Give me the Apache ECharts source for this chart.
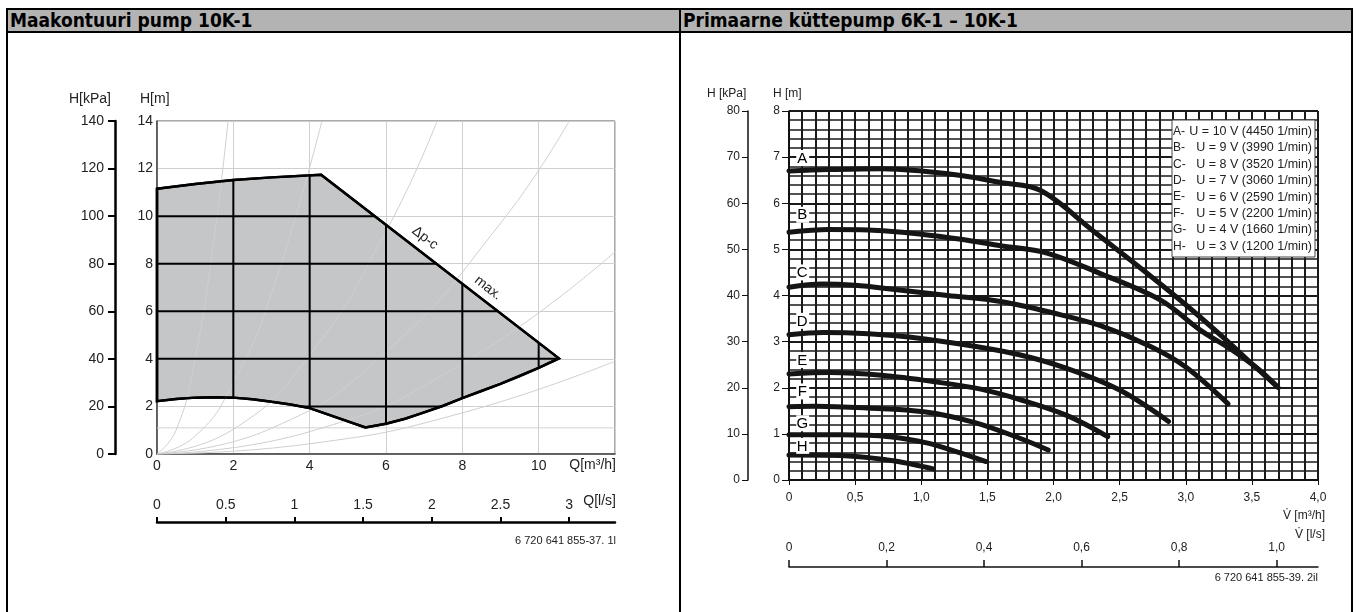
<!DOCTYPE html>
<html>
<head>
<meta charset="utf-8">
<script src="https://cdn.jsdelivr.net/npm/echarts@6/dist/echarts.min.js"></script>
<style>
  body { margin: 0; background: #fff; }
  #wrap { position: relative; width: 1359px; height: 612px; overflow: hidden; }
  #chart { position: absolute; left: 0; top: 0; width: 1359px; height: 612px; }
  .vl { position: absolute; top: 8px; bottom: 0; width: 2px; background: #000; }
  .hd { position: absolute; top: 8px; height: 21px; background: #b3b3b3;
        border-top: 2px solid #000; border-bottom: 2px solid #000;
        font: bold 19px 'Liberation Sans Narrow', 'DejaVu Sans Condensed', sans-serif;
        line-height: 21px; padding-left: 3px; box-sizing: content-box; }
</style>
</head>
<body>
<div id="wrap">
  <div class="hd" style="left:7px;width:670px">Maakontuuri pump 10K-1</div>
  <div class="hd" style="left:680px;width:669px">Primaarne küttepump 6K-1 – 10K-1</div>
  <div class="vl" style="left:6px"></div>
  <div class="vl" style="left:679px"></div>
  <div class="vl" style="left:1351px"></div>
  <div id="chart"></div>
</div>
<script>
// ---- left chart: Maakontuuri pump (Q m3/h, H m) ----
var areaTop = [[0, 11.15], [1, 11.35], [2, 11.52], [3, 11.63], [4.3, 11.74], [10.53, 4.02]];
var areaBottom = [[0, 2.22], [0.5, 2.31], [1, 2.37], [1.5, 2.39], [2, 2.37], [2.5, 2.3], [3, 2.2],
  [3.5, 2.08], [4, 1.93], [5.46, 1.12], [6, 1.27], [6.5, 1.48], [7, 1.75], [7.5, 2.03],
  [8, 2.35], [8.5, 2.65], [9, 2.95], [9.5, 3.28], [10, 3.62], [10.53, 4.02]];
// system curves (light grey)
var sysCurves = [
  [[0, 0], [0.5, 1.0], [1, 4.05], [1.5, 9.1], [1.86, 14]],
  [[0, 0], [1, 0.75], [2, 3.0], [3, 6.75], [4.32, 14]],
  [[0, 0], [2, 1.04], [4, 4.16], [6, 9.36], [7.34, 14]],
  [[0, 0], [3, 1.08], [6, 4.3], [9, 9.7], [10.8, 14]],
  [[0, 0], [4, 0.94], [8, 3.8], [12, 8.5]],
  [[0, 0], [4, 0.43], [8, 1.73], [12, 3.9]]
];
var leftGridQ = [2, 4, 6, 8, 10];
var leftGridH = [2, 4, 6, 8, 10, 12];

// ---- right chart: Primaarne küttepump (V m3/h, H m) ----
var curveNames = ['A', 'B', 'C', 'D', 'E', 'F', 'G', 'H'];
var curveInfo = ['U = 10 V (4450 1/min)', 'U = 9 V (3990 1/min)', 'U = 8 V (3520 1/min)',
  'U = 7 V (3060 1/min)', 'U = 6 V (2590 1/min)', 'U = 5 V (2200 1/min)',
  'U = 4 V (1660 1/min)', 'U = 3 V (1200 1/min)'];
var labelH = [6.98, 5.75, 4.5, 3.45, 2.6, 1.92, 1.23, 0.74];
var curves = [
  [[0, 6.7], [0.3, 6.73], [0.7, 6.75], [1.0, 6.7], [1.3, 6.6], [1.6, 6.45], [1.9, 6.28], [2.3, 5.4], [2.7, 4.5], [3.0, 3.8], [3.3, 3.05], [3.5, 2.52], [3.7, 2.0]],
  [[0, 5.37], [0.3, 5.43], [0.6, 5.42], [1.0, 5.33], [1.3, 5.22], [1.6, 5.08], [1.95, 4.92], [2.35, 4.48], [2.81, 3.9], [3.11, 3.25], [3.36, 2.8], [3.55, 2.4], [3.69, 2.03]],
  [[0, 4.18], [0.25, 4.25], [0.5, 4.22], [0.8, 4.13], [1.2, 4.0], [1.6, 3.87], [2.0, 3.62], [2.35, 3.35], [2.73, 2.9], [3.0, 2.45], [3.32, 1.65]],
  [[0, 3.15], [0.26, 3.2], [0.6, 3.17], [1.0, 3.07], [1.4, 2.9], [1.75, 2.71], [2.1, 2.42], [2.5, 1.95], [2.87, 1.27]],
  [[0, 2.3], [0.31, 2.33], [0.7, 2.27], [1.1, 2.13], [1.45, 1.97], [1.75, 1.74], [2.1, 1.4], [2.41, 0.94]],
  [[0, 1.59], [0.2, 1.6], [0.6, 1.56], [1.02, 1.48], [1.4, 1.25], [1.75, 0.9], [1.96, 0.65]],
  [[0, 0.98], [0.4, 0.98], [0.76, 0.94], [1.05, 0.8], [1.27, 0.61], [1.49, 0.40]],
  [[0, 0.54], [0.39, 0.53], [0.76, 0.43], [0.95, 0.33], [1.09, 0.24]]
];

var FONT = "'Liberation Sans', Arial, sans-serif";

function interp(pts, q) {
  for (var i = 1; i < pts.length; i++) {
    if (q <= pts[i][0]) {
      var a = pts[i - 1], b = pts[i];
      return a[1] + (b[1] - a[1]) * (q - a[0]) / (b[0] - a[0]);
    }
  }
  return pts[pts.length - 1][1];
}

// black grid pieces that lie inside the operating area
var qEnd = areaTop[areaTop.length - 1][0];
var innerSegs = [];
leftGridQ.forEach(function (q) {
  if (q < qEnd) innerSegs.push([q, interp(areaBottom, q), q, interp(areaTop, q)]);
});
leftGridH.forEach(function (h) {
  var start = null;
  for (var q = 0; q <= qEnd + 1e-9; q += 0.005) {
    var inside = interp(areaBottom, q) < h && h < interp(areaTop, q);
    if (inside && start === null) start = q;
    if (!inside && start !== null) { innerSegs.push([start, h, q, h]); start = null; }
  }
  if (start !== null) innerSegs.push([start, h, qEnd, h]);
});

function comma(v) {
  if (v === 0) return '0';
  return v.toFixed(1).replace('.', ',');
}

var chart = echarts.init(document.getElementById('chart'));

var series = [];
// operating area fill + outline
series.push({
  type: 'custom', xAxisIndex: 0, yAxisIndex: 0, z: 2, silent: true,
  data: [[0, 0]],
  renderItem: function (params, api) {
    var pts = areaTop.concat(areaBottom.slice().reverse()).map(function (p) { return api.coord(p); });
    return { type: 'polygon', shape: { points: pts },
      style: { fill: '#c5c6c8', stroke: '#000', lineWidth: 2.5, lineJoin: 'miter' } };
  }
});
sysCurves.forEach(function (c) {
  series.push({ type: 'line', xAxisIndex: 0, yAxisIndex: 0, z: 3, data: c, smooth: true,
    symbol: 'none', silent: true, lineStyle: { color: '#cfcfcf', width: 1 } });
});
series.push({ type: 'line', xAxisIndex: 0, yAxisIndex: 0, z: 1, data: [[0, 1.1], [12, 1.1]],
  symbol: 'none', silent: true, lineStyle: { color: '#d2d2d2', width: 1 } });
series.push({
  type: 'custom', xAxisIndex: 0, yAxisIndex: 0, z: 4, silent: true,
  data: innerSegs,
  renderItem: function (params, api) {
    var p1 = api.coord([api.value(0), api.value(1)]);
    var p2 = api.coord([api.value(2), api.value(3)]);
    return { type: 'line', shape: { x1: p1[0], y1: p1[1], x2: p2[0], y2: p2[1] },
      style: { stroke: '#000', lineWidth: 2 } };
  }
});
// re-stroke outline on top of the black grid
series.push({
  type: 'custom', xAxisIndex: 0, yAxisIndex: 0, z: 5, silent: true,
  data: [[0, 0]],
  renderItem: function (params, api) {
    var pts = areaTop.concat(areaBottom.slice().reverse()).map(function (p) { return api.coord(p); });
    return { type: 'polygon', shape: { points: pts },
      style: { fill: 'none', stroke: '#000', lineWidth: 2.5 } };
  }
});

curves.forEach(function (c, i) {
  series.push({ type: 'line', name: curveNames[i], xAxisIndex: 2, yAxisIndex: 2, z: 5,
    data: c, smooth: 0.35, symbol: 'none', silent: true,
    lineStyle: { color: '#151515', width: 5, cap: 'round' } });
});
// curve letters with white boxes
series.push({
  type: 'custom', xAxisIndex: 2, yAxisIndex: 2, z: 6, silent: true,
  data: curveNames.map(function (n, i) { return [0.1, labelH[i]]; }),
  renderItem: function (params, api) {
    var p = api.coord([api.value(0), api.value(1)]);
    return { type: 'group', children: [
      { type: 'rect', shape: { x: p[0] - 6, y: p[1] - 8, width: 13, height: 16 }, style: { fill: '#fff' } },
      { type: 'text', x: p[0], y: p[1] + 0.5,
        style: { text: curveNames[params.dataIndex], font: '15px ' + FONT, fill: '#000',
          align: 'center', verticalAlign: 'middle', opacity: 1 } }
    ] };
  }
});

var legendKids = [{ type: 'rect', z: 100, shape: { x: 0, y: 0, width: 143, height: 137 },
  style: { fill: '#fff', stroke: '#444', lineWidth: 1 } }];
curveNames.forEach(function (n, i) {
  legendKids.push({ type: 'text', z: 101, x: 1, y: 11.5 + i * 16.4,
    style: { text: n + '-', font: '12px ' + FONT, fill: '#222', verticalAlign: 'middle' } });
  legendKids.push({ type: 'text', z: 101, x: 140, y: 11.5 + i * 16.4,
    style: { text: curveInfo[i], font: '12.5px ' + FONT, fill: '#222', align: 'right', verticalAlign: 'middle' } });
});

function txt(x, y, s, size, align, rot) {
  return { type: 'text', x: x, y: y, rotation: rot || 0, z: 50,
    style: { text: s, font: size + 'px ' + FONT, fill: '#222', align: align || 'left', verticalAlign: 'middle' } };
}

var axisTxt = { fontFamily: FONT, color: '#222' };

chart.setOption({
  animation: false,
  grid: [
    { left: 157, top: 121, width: 458, height: 333, show: true, borderColor: '#555', borderWidth: 1 },
    { left: 789, top: 111, width: 529, height: 369 }
  ],
  xAxis: [
    { gridIndex: 0, type: 'value', min: 0, max: 12, interval: 2,
      axisLine: { lineStyle: { color: '#444', width: 1.5 } }, axisTick: { show: false },
      axisLabel: Object.assign({ fontSize: 14, margin: 5, showMaxLabel: false }, axisTxt),
      splitLine: { lineStyle: { color: '#cfcfcf', width: 1 } } },
    { gridIndex: 0, type: 'value', position: 'bottom', offset: 68, min: 0, max: 12 / 3.6, interval: 0.5,
      axisLine: { onZero: false, lineStyle: { color: '#000', width: 2.5 } },
      axisTick: { inside: true, length: 5, lineStyle: { color: '#000', width: 2 } },
      axisLabel: Object.assign({ inside: true, fontSize: 14, margin: 10, showMaxLabel: false }, axisTxt),
      splitLine: { show: false } },
    { gridIndex: 1, type: 'value', min: 0, max: 4, interval: 0.5,
      axisLine: { lineStyle: { color: '#111', width: 1.5 } },
      axisTick: { length: 5, lineStyle: { color: '#111' } },
      axisLabel: Object.assign({ fontSize: 12, margin: 12, formatter: comma }, axisTxt),
      minorTick: { show: false, splitNumber: 5 },
      splitLine: { lineStyle: { color: '#1a1a1a', width: 2 } },
      minorSplitLine: { show: true, lineStyle: { color: '#1a1a1a', width: 2 } } },
    { gridIndex: 1, type: 'value', position: 'bottom', offset: 87, min: 0, max: 1.085, interval: 0.2,
      axisLine: { onZero: false, lineStyle: { color: '#111', width: 1.5 } },
      axisTick: { inside: true, length: 7, lineStyle: { color: '#111', width: 1.5 } },
      axisLabel: Object.assign({ inside: true, fontSize: 12, margin: 13, showMaxLabel: false, formatter: comma }, axisTxt),
      splitLine: { show: false } }
  ],
  yAxis: [
    { gridIndex: 0, type: 'value', min: 0, max: 14, interval: 2,
      axisLine: { show: true, lineStyle: { color: '#444', width: 1.5 } }, axisTick: { show: false },
      axisLabel: Object.assign({ fontSize: 14, margin: 4 }, axisTxt),
      splitLine: { lineStyle: { color: '#cfcfcf', width: 1 } } },
    { gridIndex: 0, type: 'value', position: 'left', offset: 42, min: 0, max: 140, interval: 20,
      axisLine: { show: true, onZero: false, lineStyle: { color: '#000', width: 2.5 } },
      axisTick: { show: true, length: 7, lineStyle: { color: '#000', width: 2 } },
      axisLabel: Object.assign({ fontSize: 14, margin: 11 }, axisTxt),
      splitLine: { show: false } },
    { gridIndex: 1, type: 'value', min: 0, max: 8, interval: 1,
      axisLine: { show: true, lineStyle: { color: '#111', width: 1.5 } },
      axisTick: { show: true, length: 7, lineStyle: { color: '#111' } },
      axisLabel: Object.assign({ fontSize: 12, margin: 9 }, axisTxt),
      minorTick: { show: false, splitNumber: 5 },
      splitLine: { lineStyle: { color: '#1a1a1a', width: 2 } },
      minorSplitLine: { show: true, lineStyle: { color: '#1a1a1a', width: 1.5 } } },
    { gridIndex: 1, type: 'value', position: 'left', offset: 41, min: 0, max: 80, interval: 10,
      axisLine: { show: true, onZero: false, lineStyle: { color: '#111', width: 1.5 } },
      axisTick: { show: true, length: 6, lineStyle: { color: '#111' } },
      axisLabel: Object.assign({ fontSize: 12, margin: 8 }, axisTxt),
      splitLine: { show: false } }
  ],
  graphic: [
    txt(69, 99, 'H[kPa]', 14), txt(140, 99, 'H[m]', 14),
    txt(616, 465, 'Q[m³/h]', 14, 'right'), txt(616, 501, 'Q[l/s]', 14, 'right'),
    txt(616, 541, '6 720 641 855-37. 1l', 11, 'right'),
    txt(425, 238, 'Δp-c', 14, 'center', -0.66), txt(488, 288, 'max.', 14, 'center', -0.66),
    txt(707, 94, 'H [kPa]', 12), txt(773, 94, 'H [m]', 12),
    txt(1325, 516, 'V\u0307 [m³/h]', 12, 'right'), txt(1325, 535, 'V\u0307 [l/s]', 12, 'right'),
    txt(1318, 578, '6 720 641 855-39. 2il', 11, 'right'),
    { type: 'group', x: 1172, y: 120, children: legendKids }
  ],
  series: series
});
</script>
</body>
</html>
